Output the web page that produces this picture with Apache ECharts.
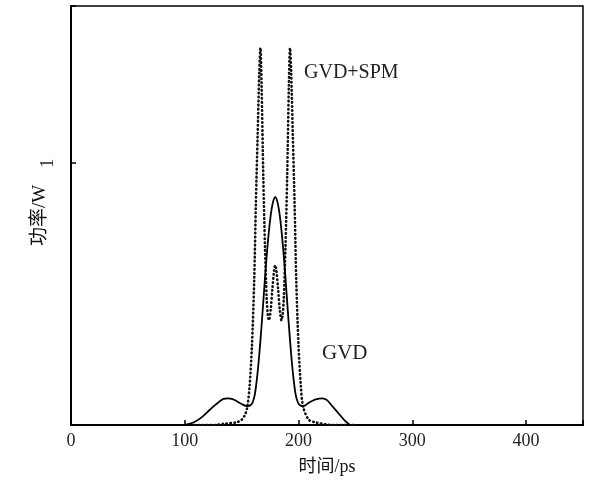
<!DOCTYPE html>
<html>
<head>
<meta charset="utf-8">
<script src="https://cdn.jsdelivr.net/npm/echarts@6/dist/echarts.min.js"></script>
<style>
html,body{margin:0;padding:0;background:#fff;}
#c{width:589px;height:483px;}
</style>
</head>
<body>
<div id="c"></div>
<script>
// Time axis (ps) and power (W) samples
var gvdTime = [100,105,110,115,120,125,130,134,138,142,146,150,154.5,157.5,159.5,161.5,163.5,165.5,167.5,169.5,171.5,173.5,175.5,177.5,179.5,181.5,183.5,185.5,187.5,189.5,191.5,193.5,195.5,197.5,199.5,201.5,204.5,209,215,221,225,230,235,240,245];
var gvdPower = [0,0.005,0.015,0.03,0.05,0.07,0.088,0.1,0.102,0.099,0.09,0.08,0.072,0.075,0.085,0.115,0.18,0.27,0.38,0.5,0.62,0.72,0.8,0.85,0.87,0.85,0.8,0.72,0.62,0.5,0.38,0.27,0.18,0.115,0.085,0.075,0.072,0.085,0.098,0.102,0.095,0.07,0.045,0.02,0];

var spmTime = [105,115,125,135,145,150,153,155,157,159,161,162.5,164,165.5,166.5,167.5,169,170.5,172,173,174,175.5,177,178.5,179.5,180.5,182,183.5,185,186,187,188.5,190,191.5,192.5,193.5,195,196.5,198,200,202,204,209,215,230,250];
var spmPower = [0,0,0,0.005,0.01,0.02,0.04,0.07,0.15,0.3,0.55,0.85,1.1,1.35,1.44,1.3,0.95,0.68,0.48,0.42,0.4,0.44,0.52,0.59,0.61,0.59,0.52,0.44,0.4,0.42,0.48,0.68,0.95,1.3,1.44,1.35,1.1,0.85,0.55,0.3,0.15,0.07,0.02,0.01,0,0];

var xTicks = [0,100,200,300,400];
var yTicks = [1];
var curveLabels = ['GVD+SPM','GVD'];

function pairs(t, p){ return t.map(function(v,i){ return [v, p[i]]; }); }

var serif = '"Liberation Serif","DejaVu Serif","Noto Sans CJK SC",serif';
var chart = echarts.init(document.getElementById('c'), null, {renderer:'canvas'});
chart.setOption({
  animation:false,
  backgroundColor:'#fff',
  grid:{left:71, right:6, top:6, bottom:58, show:true, borderColor:'#000', borderWidth:1.5, backgroundColor:'transparent'},
  xAxis:{
    type:'value', min:0, max:450, interval:100,
    name:'时间/ps', nameLocation:'middle', nameGap:33, nameMoveOverlap:false,
    nameTextStyle:{fontFamily:serif, fontSize:18, color:'#111'},
    axisLine:{show:true, onZero:false, lineStyle:{color:'#000', width:2}},
    axisTick:{show:true, inside:true, length:5, lineStyle:{color:'#000', width:1.5}},
    axisLabel:{margin:7, fontFamily:serif, fontSize:18, color:'#222',
      formatter:function(v){ return xTicks.indexOf(v) >= 0 ? String(v) : ''; }},
    splitLine:{show:false}
  },
  yAxis:{
    type:'value', min:0, max:1.6, interval:1,
    name:'功率/W', nameLocation:'middle', nameGap:21, nameRotate:90, nameMoveOverlap:false,
    nameTextStyle:{fontFamily:serif, fontSize:19, color:'#111'},
    axisLine:{show:true, onZero:false, lineStyle:{color:'#000', width:2}},
    axisTick:{show:true, inside:true, length:5, lineStyle:{color:'#000', width:1.5}},
    axisLabel:{margin:14, rotate:90, fontFamily:serif, fontSize:18, color:'#222',
      formatter:function(v){ return yTicks.indexOf(v) >= 0 ? String(v) : ''; }},
    splitLine:{show:false}
  },
  series:[
    {
      name:curveLabels[0], type:'line', data:pairs(spmTime, spmPower), showSymbol:false, smooth:0.3,
      lineStyle:{color:'#111', width:2.6, type:[0.5,3.5], cap:'round'}
    },
    {
      name:curveLabels[1], type:'line', data:pairs(gvdTime, gvdPower), showSymbol:false, smooth:0.3,
      lineStyle:{color:'#000', width:1.8, type:'solid'}
    }
  ],
  graphic:[
    {type:'text', left:304, top:63, style:{text:curveLabels[0], font:'20px '+serif, fill:'#222'}},
    {type:'text', left:322, top:343, style:{text:curveLabels[1], font:'21px '+serif, fill:'#222'}}
  ]
});
</script>
</body>
</html>
